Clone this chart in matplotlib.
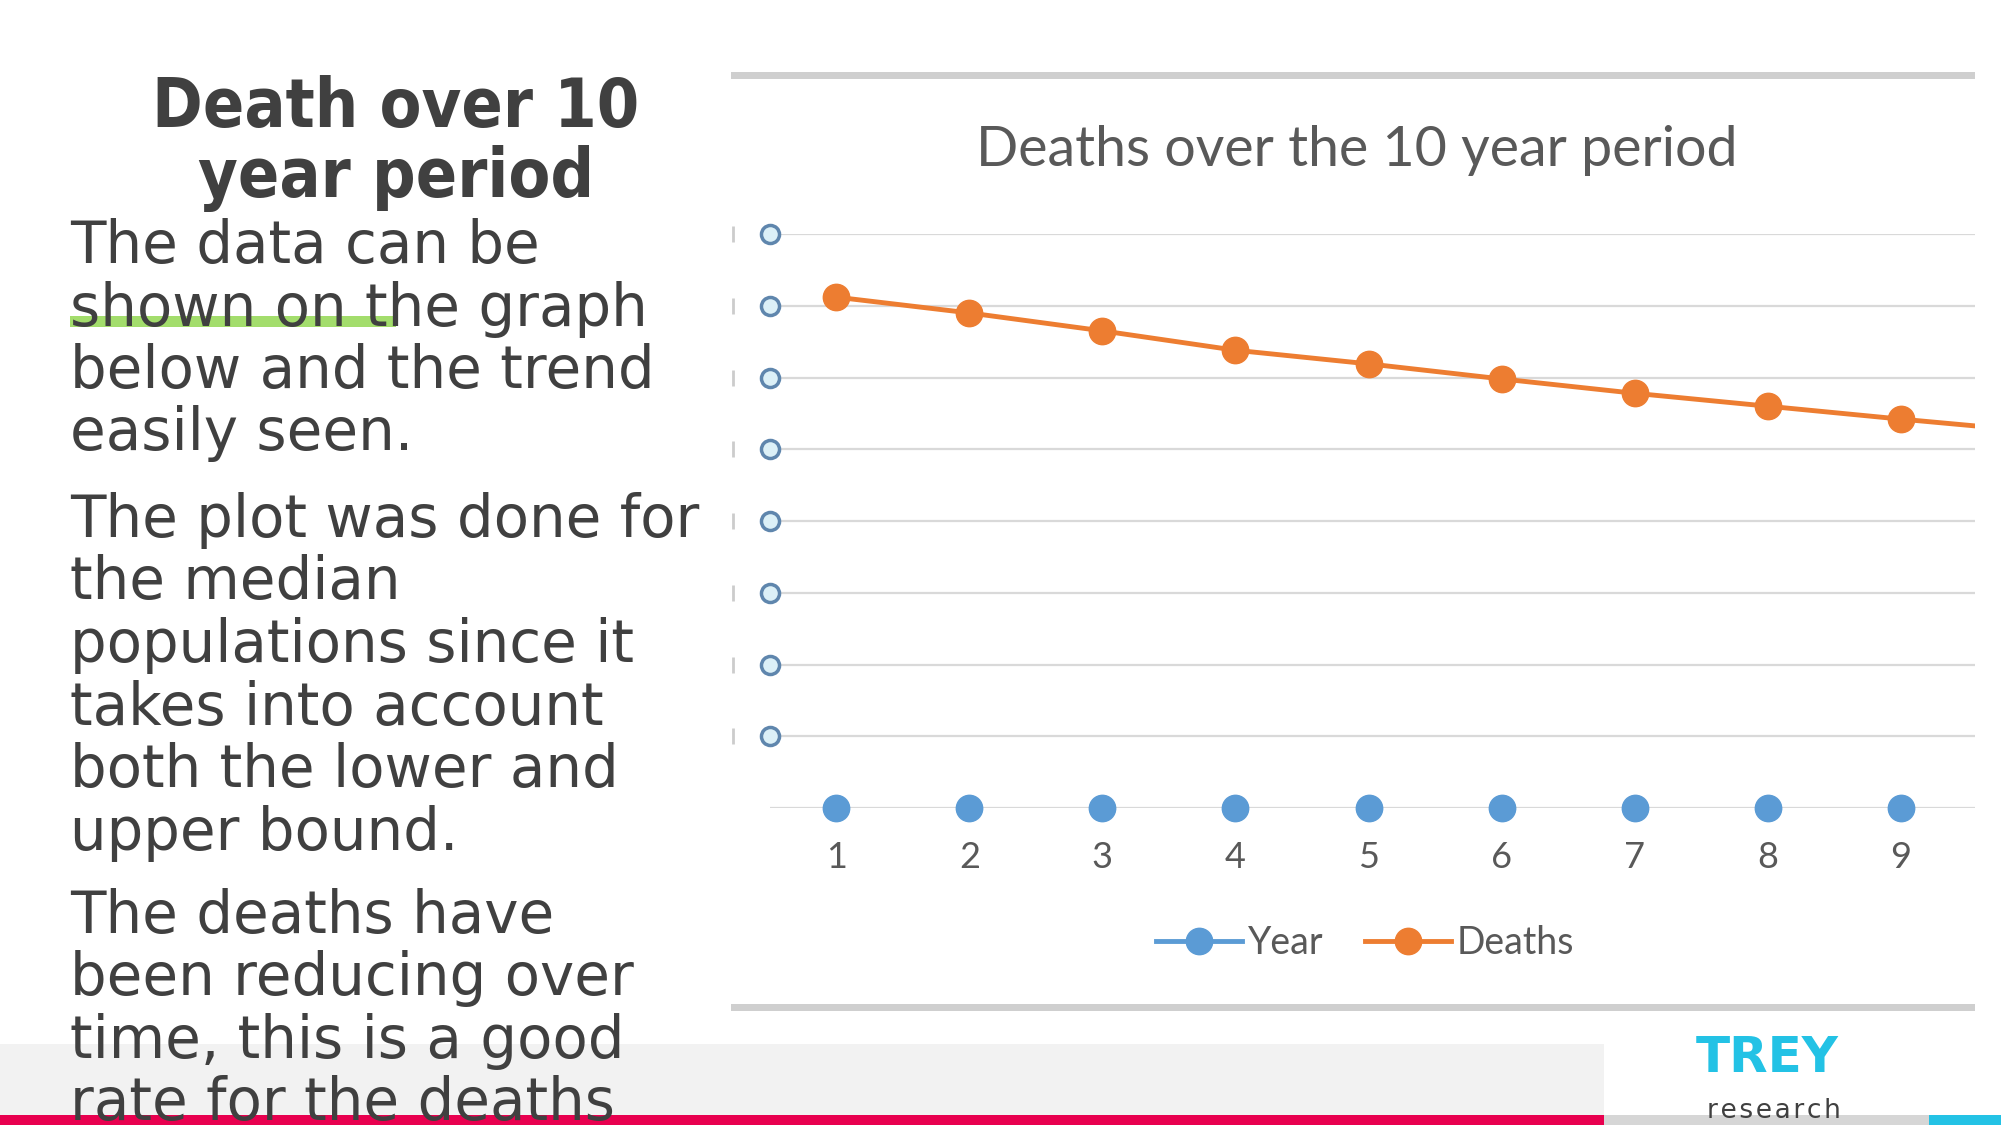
import matplotlib
matplotlib.use("Agg")
import matplotlib.pyplot as plt
from matplotlib.patches import Rectangle
from matplotlib.lines import Line2D

# slide data
heading = ["Death over 10", "year period"]
para1 = ["The data can be", "shown on the graph", "below and the trend", "easily seen."]
para2 = ["The plot was done for", "the median", "populations since it",
         "takes into account", "both the lower and", "upper bound."]
para3 = ["The deaths have", "been reducing over", "time, this is a good", "rate for the deaths"]

chart_title = "Deaths over the 10 year period"
periods = [1, 2, 3, 4, 5, 6, 7, 8, 9, 10]
year = [0, 0, 0, 0, 0, 0, 0, 0, 0, 0]
deaths = [7.12, 6.90, 6.65, 6.38, 6.19, 5.98, 5.78, 5.60, 5.42, 5.25]
grid_vals = [0, 1, 2, 3, 4, 5, 6, 7, 8]
tick_labels = ["1", "2", "3", "4", "5", "6", "7", "8", "9", "10"]

W, H = 2001, 1125
fig = plt.figure(figsize=(W / 100, H / 100), dpi=100)
fig.patch.set_facecolor("white")

def fx(x):
    return x / W

def fy(y):
    return 1 - y / H

def rect(x0, y0, x1, y1, color, z=1):
    fig.add_artist(Rectangle((fx(x0), fy(y1)), fx(x1) - fx(x0), fy(y0) - fy(y1),
                             transform=fig.transFigure, color=color, lw=0, zorder=z))

# bottom bands
rect(0, 1044, 1604, 1115, "#f2f2f2")
rect(0, 1115, 1604, 1125, "#e8004f")
rect(1604, 1115, 1929, 1125, "#d6d6d6")
rect(1929, 1115, 2001, 1125, "#23c2e5")

# chart frame lines
rect(731, 72, 1975, 79, "#cfcfcf")
rect(731, 1004, 1975, 1011, "#cfcfcf")

# highlight under "shown on th"
rect(70, 316, 396, 327, "#a3dd6c", z=2)

txt = "#404040"
for i, line in enumerate(heading):
    fig.text(fx(396), fy(127 + 70 * i), line, ha="center", va="baseline",
             fontsize=49, fontweight="bold", fontstretch="condensed",
             family="DejaVu Sans", color=txt, zorder=5)

step = 62.5
for start, para in [(263, para1), (537, para2), (932.5, para3)]:
    for i, line in enumerate(para):
        fig.text(fx(70), fy(start + step * i), line, ha="left", va="baseline",
                 fontsize=41.7, family="DejaVu Sans", color=txt, zorder=5)

# logo
fig.text(fx(1767), fy(1072), "TREY", ha="center", va="baseline", fontsize=36,
         fontweight="bold", family="DejaVu Sans", color="#23c2e5", zorder=5)
fig.text(fx(1774), fy(1118), "r\u200ae\u200as\u200ae\u200aa\u200ar\u200ac\u200ah",
         ha="center", va="baseline", fontsize=19,
         family="DejaVu Sans", color=txt, zorder=5)

# chart
fig.text(fx(1357), fy(150), chart_title, ha="center", va="center", fontsize=40,
         family="Lato", color="#595959")

ax = fig.add_axes([fx(769.7), fy(808), fx(1975) - fx(769.7), fy(234) - fy(808)])
ax.patch.set_alpha(0)
for s in ax.spines.values():
    s.set_visible(False)
ax.set_yticks(grid_vals)
ax.set_yticklabels([])
ax.grid(axis="y", color="#d9d9d9", lw=1.6, zorder=0)
ax.set_xticks(periods)
ax.set_xticklabels(tick_labels, family="Lato", fontsize=26, color="#595959")
ax.tick_params(axis="both", length=0, pad=24)
ax.set_xlim(0.5, 9.557)
ax.set_ylim(0, 8)

ax.plot(periods, year, color="#5b9bd5", lw=3.5, marker="o", ms=19, mec="#5b9bd5",
        label="Year", ls="none", clip_on=False, zorder=4)
ax.plot(periods, deaths, color="#ed7d31", lw=3.5, marker="o", ms=19,
        label="Deaths", zorder=4)

# clipped axis labels left over in the screenshot
yt = ax.get_yaxis_transform()
ax.plot([0] * 8, grid_vals[1:], transform=yt, ls="none", marker="o", ms=13,
        mfc="#dcf0f7", mec="#5f86ad", mew=2.5, clip_on=False, zorder=5)
ax.plot([-0.0305] * 8, grid_vals[1:], transform=yt, ls="none", marker="|", ms=12,
        mec="#cccccc", mew=2, clip_on=False, zorder=5)

h = [Line2D([], [], color="#5b9bd5", lw=3.5, marker="o", ms=19),
     Line2D([], [], color="#ed7d31", lw=3.5, marker="o", ms=19)]
leg = ax.legend(h, ["Year", "Deaths"], loc="center", ncol=2, frameon=False,
                bbox_to_anchor=(fx(1365), fy(943)), bbox_transform=fig.transFigure,
                prop={"family": "Lato", "size": 27}, handlelength=2.3,
                handletextpad=0.15, columnspacing=1.1, labelcolor="#595959")

fig.savefig("out.png", dpi=100)
